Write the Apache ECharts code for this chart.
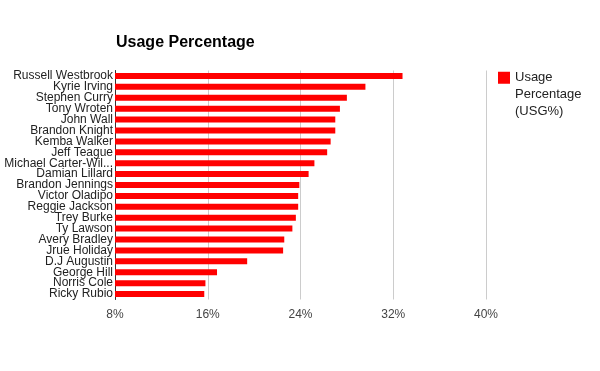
<!DOCTYPE html>
<html>
<head>
<meta charset="utf-8">
<script src="https://cdn.jsdelivr.net/npm/echarts@6/dist/echarts.min.js"></script>
<style>
html,body{margin:0;padding:0;background:#fff;}
#c{width:600px;height:371px;}
</style>
</head>
<body>
<div id="c"></div>
<script>
const players = ["Russell Westbrook","Kyrie Irving","Stephen Curry","Tony Wroten","John Wall","Brandon Knight","Kemba Walker","Jeff Teague","Michael Carter-Wil...","Damian Lillard","Brandon Jennings","Victor Oladipo","Reggie Jackson","Trey Burke","Ty Lawson","Avery Bradley","Jrue Holiday","D.J Augustin","George Hill","Norris Cole","Ricky Rubio"];
const usage = [32.8,29.6,28.0,27.4,27.0,27.0,26.6,26.3,25.2,24.7,23.9,23.8,23.8,23.6,23.3,22.6,22.5,19.4,16.8,15.8,15.7];
const seriesName = "Usage Percentage (USG%)";
const legendLines = ["Usage","Percentage","(USG%)"];
const xTicks = [8,16,24,32,40];

const chart = echarts.init(document.getElementById('c'), null, {renderer:'canvas'});
chart.setOption({
  animation:false,
  backgroundColor:'#fff',
  title:{
    text:'Usage Percentage',
    left:116, top:35, padding:0,
    textStyle:{fontFamily:'Liberation Sans, Arial', fontSize:16, fontWeight:'bold', color:'#000'}
  },
  legend:{
    data:[seriesName],
    orient:'vertical',
    left:498, top:36,
    padding:0,
    itemWidth:12, itemHeight:12, itemGap:0,
    icon:'rect',
    formatter:function(){ return '\n\n' + legendLines.join('\n'); },
    textStyle:{fontFamily:'Liberation Sans, Arial', fontSize:13, color:'#222', lineHeight:16.7}
  },
  grid:{left:115, right:114, top:70.5, bottom:71.5, containLabel:false},
  xAxis:{
    type:'value', min:xTicks[0], max:xTicks[xTicks.length-1], interval:8,
    axisLine:{show:false},
    axisTick:{show:false},
    axisLabel:{formatter:'{value}%', fontFamily:'Liberation Sans, Arial', fontSize:12, color:'#444', margin:9,
      showMinLabel:true, showMaxLabel:true},
    splitLine:{show:true, lineStyle:{color:'#cccccc', width:1}}
  },
  yAxis:{
    type:'category', data:players, inverse:true,
    axisLine:{show:true, lineStyle:{color:'#333', width:1}},
    axisTick:{show:false},
    axisLabel:{fontFamily:'Liberation Sans, Arial', fontSize:12, color:'#222', margin:2, interval:0},
    splitLine:{show:false}
  },
  series:[{
    name:seriesName, type:'bar', data:usage,
    barCategoryGap:'45%',
    itemStyle:{color:'#ff0000'}
  }]
});
</script>
</body>
</html>
